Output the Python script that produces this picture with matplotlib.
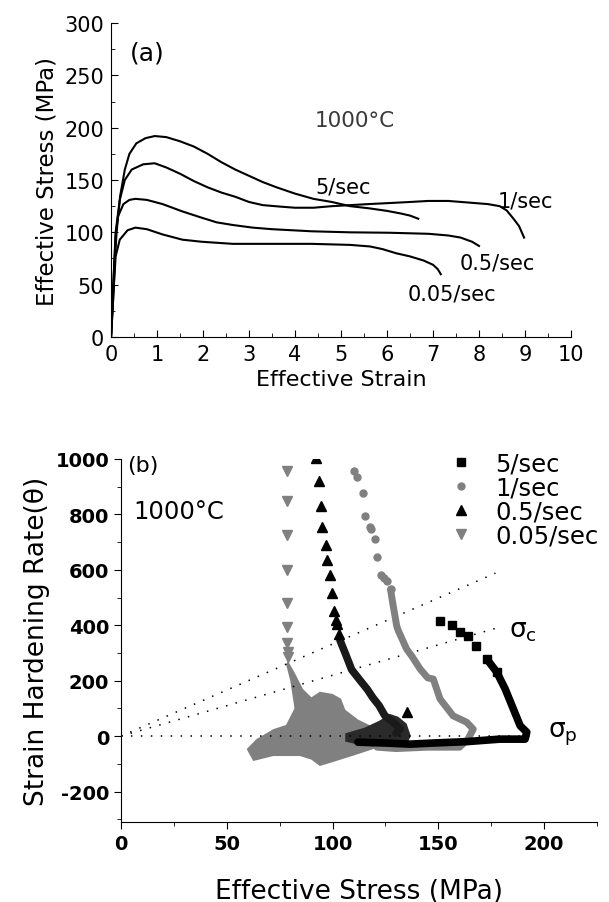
import matplotlib
matplotlib.use("Agg")
import matplotlib.pyplot as plt
from matplotlib.ticker import MultipleLocator

plt.rcParams['font.family'] = ['DejaVu Sans']
plt.rcParams['mathtext.fontset'] = 'dejavusans'
plt.rcParams['axes.unicode_minus'] = False

# ---------------- panel (a): stress-strain curves ----------------
strain_5 = [0, 0.04, 0.08, 0.12, 0.2, 0.3, 0.4, 0.55, 0.75, 0.95, 1.2, 1.5, 1.8, 2.1, 2.4, 2.7,
            3.0, 3.3, 3.6, 4.0, 4.4, 4.8, 5.2, 5.6, 6.0, 6.3, 6.5, 6.68]
stress_5 = [0, 30, 70, 100, 135, 160, 175, 185, 190, 192, 191, 187, 182, 175, 167, 160,
            154, 148, 143, 137, 132, 129, 125, 123, 120.5, 118, 116, 113]

strain_1 = [0, 0.04, 0.1, 0.19, 0.3, 0.45, 0.7, 0.95, 1.2, 1.5, 1.8, 2.1, 2.4, 2.7, 3.0, 3.3,
            3.7, 4.0, 4.4, 4.8, 5.2, 5.6, 6.06, 6.5, 6.9, 7.33, 7.76, 8.19, 8.45, 8.6, 8.75,
            8.87, 8.98]
stress_1 = [0, 40, 100, 131, 150, 160, 165, 166, 162, 156, 149, 143, 138, 134, 129, 126,
            124.5, 123.5, 123.5, 125, 126, 127, 128, 129, 130, 130, 128.5, 127, 125, 121, 113,
            106, 95]

strain_05 = [0, 0.05, 0.1, 0.15, 0.27, 0.4, 0.53, 0.78, 1.12, 1.55, 1.97, 2.3, 2.65, 3.08, 3.5,
             4.36, 5.2, 6.06, 6.9, 7.33, 7.6, 7.85, 8.0]
stress_05 = [0, 50, 96, 115, 127, 131, 132, 131, 127, 120, 114, 109.5, 107, 104.5, 103,
             101, 100, 99.6, 98.6, 97, 95, 91, 87]

strain_005 = [0, 0.05, 0.1, 0.19, 0.36, 0.53, 0.78, 1.12, 1.55, 1.97, 2.65, 3.5, 4.36, 5.2,
              5.63, 5.9, 6.2, 6.5, 6.8, 7.0, 7.1, 7.17]
stress_005 = [0, 40, 77, 93, 102, 104.5, 103, 98, 93, 91, 89, 89, 89, 88,
              86.5, 84, 80, 77, 73, 69, 65, 60]

curve_labels = ["5/sec", "1/sec", "0.5/sec", "0.05/sec"]
curve_label_pos = [(4.44, 144), (8.4, 130), (7.57, 71), (6.44, 42)]

# ---------------- panel (b): strain hardening rate vs stress ----------------
# 5/sec (squares)
s5_sparse_x = [150.8, 156.3, 160.3, 164, 168, 172.9, 177.6]
s5_sparse_y = [416, 400, 377, 361, 326, 278, 231]
s5_dense_x = [172.9, 177.6, 181.6, 185.5, 188.7, 191.8, 191, 179, 163.4, 147.6, 136.6, 125, 112]
s5_dense_y = [278, 231, 170, 97, 37, 14, -11, -11, -20, -25, -29, -25, -22]

# 1/sec (circles)
s1_sparse_x = [110, 111.5, 114.5, 115.5, 117.5, 118, 120, 121, 123, 124.5, 125.6, 127.4]
s1_sparse_y = [955, 935, 878, 795, 755, 748, 713, 648, 583, 570, 559, 530]
s1_dense_x = [127.4, 128.4, 130.3, 131, 135, 137.6, 141.4, 145, 147.6, 150.8, 157, 163.4, 166.5,
              164, 160, 145, 130, 121]
s1_dense_y = [530, 482, 398, 382, 314, 287, 242, 210, 206, 134, 73, 50, 25,
              -11, -40, -40, -45, -40]

# 0.5/sec (up triangles)
s05_sparse_x = [92, 93.4, 94.5, 95.2, 96.7, 97.6, 99, 99.8, 100.7, 101.5, 102, 103, 135]
s05_sparse_y = [1002, 920, 831, 754, 689, 636, 580, 518, 453, 420, 405, 370, 86]
s05_dense_x = [103.5, 106, 109, 112.7, 116.4, 119, 122, 124.7, 128.4, 132, 130]
s05_dense_y = [346, 299, 240, 204, 169, 139, 110, 74, 51, 27, 10]
s05_cloud_x = [106, 115, 122, 127, 131, 135, 137, 135, 125, 115, 106]
s05_cloud_y = [10, 30, 55, 80, 70, 45, 0, -30, -40, -35, -20]

# 0.05/sec (down triangles)
s005_sparse_x = [78.6, 78.6, 78.6, 78.6, 78.6, 78.6, 78.6, 79, 79]
s005_sparse_y = [955, 849, 725, 600, 482, 394, 335, 305, 287]
s005_cloud_x = [79, 82, 86, 90, 94, 100, 104, 106, 112, 120, 124, 122, 110, 100, 94, 90, 84.6,
                72, 62.5, 59.4, 64, 72, 78, 82, 80, 78]
s005_cloud_y = [270, 230, 170, 140, 160, 152, 135, 95, 60, 30, -10, -40, -70, -94, -108, -85, -72,
                -72, -90, -47, -11, 25, 40, 100, 200, 260]

# dotted construction lines (sigma_p, sigma_c and upper tangent)
guide_x = [[0, 197], [0, 179], [0, 177]]
guide_y = [[0, 0], [0, 393], [0, 588]]

legend_labels = ["5/sec", "1/sec", "0.5/sec", "0.05/sec"]

fig = plt.figure(figsize=(6.09, 9.03), dpi=100)

# ---- top panel ----
ax1 = fig.add_axes([0.1823, 0.6257, 0.7553, 0.3477])
for sx, sy in [(strain_5, stress_5), (strain_1, stress_1), (strain_05, stress_05), (strain_005, stress_005)]:
    ax1.plot(sx, sy, color='black', lw=1.5)
ax1.set_xlim(0, 10)
ax1.set_ylim(0, 300)
ax1.xaxis.set_major_locator(MultipleLocator(1))
ax1.xaxis.set_minor_locator(MultipleLocator(0.5))
ax1.yaxis.set_major_locator(MultipleLocator(50))
ax1.yaxis.set_minor_locator(MultipleLocator(25))
ax1.spines['top'].set_visible(False)
ax1.spines['right'].set_visible(False)
ax1.tick_params(which='both', direction='in', labelsize=15)
ax1.tick_params(axis='x', which='major', length=5, pad=5)
ax1.tick_params(axis='y', which='major', length=5, pad=5)
ax1.tick_params(which='minor', length=3)
ax1.set_xlabel("Effective Strain", fontsize=16, labelpad=4)
ax1.set_ylabel("Effective Stress (MPa)", fontsize=16.5, labelpad=4)
ax1.text(0.78, 272, "(a)", fontsize=18, va='center', ha='center')
ax1.text(5.29, 207, "1000°C", fontsize=15.5, va='center', ha='center', color='#3a3a3a')
for lab, (lx, ly) in zip(curve_labels, curve_label_pos):
    ax1.text(lx, ly, lab, fontsize=15, va='center')

# ---- bottom panel ----
ax2 = fig.add_axes([0.1987, 0.0886, 0.7816, 0.4020])
for gx, gy in zip(guide_x, guide_y):
    ax2.plot(gx, gy, color='black', lw=1.1, ls=(0, (1, 5.5)))

gray = '#808080'
ax2.fill(s005_cloud_x, s005_cloud_y, color=gray, lw=0)
ax2.plot(s005_sparse_x, s005_sparse_y, ls='none', marker='v', ms=7, color=gray)
ax2.plot(s1_dense_x, s1_dense_y, color=gray, lw=5, solid_joinstyle='round', solid_capstyle='round')
ax2.plot(s1_sparse_x, s1_sparse_y, ls='none', marker='o', ms=5, color=gray)
ax2.fill(s05_cloud_x, s05_cloud_y, color='#2a2a2a', lw=0)
ax2.plot(s05_dense_x, s05_dense_y, color='#1a1a1a', lw=5.5, solid_joinstyle='round', solid_capstyle='round')
ax2.plot(s05_sparse_x, s05_sparse_y, ls='none', marker='^', ms=7, color='black')
ax2.plot(s5_dense_x, s5_dense_y, color='black', lw=5.5, solid_joinstyle='round', solid_capstyle='round')
ax2.plot(s5_sparse_x, s5_sparse_y, ls='none', marker='s', ms=5.5, color='black')

h5, = ax2.plot([], [], ls='none', marker='s', ms=5.5, color='black')
h1, = ax2.plot([], [], ls='none', marker='o', ms=5, color=gray)
h05, = ax2.plot([], [], ls='none', marker='^', ms=7, color='black')
h005, = ax2.plot([], [], ls='none', marker='v', ms=7, color=gray)
ax2.legend([h5, h1, h05, h005], legend_labels, loc='upper left', frameon=False,
           fontsize=17.5, handletextpad=0.9, labelspacing=0.0, borderaxespad=0.0,
           borderpad=0.0, bbox_to_anchor=(0.689, 1.02), handlelength=1.0)

ax2.set_xlim(0, 225)
ax2.set_ylim(-310, 1000)
ax2.xaxis.set_major_locator(MultipleLocator(50))
ax2.xaxis.set_minor_locator(MultipleLocator(25))
ax2.yaxis.set_major_locator(MultipleLocator(200))
ax2.yaxis.set_minor_locator(MultipleLocator(100))
ax2.spines['top'].set_visible(False)
ax2.spines['right'].set_visible(False)
ax2.tick_params(which='both', direction='out', labelsize=14)
ax2.tick_params(which='major', length=5)
ax2.tick_params(which='minor', length=3)
for lbl in ax2.get_xticklabels() + ax2.get_yticklabels():
    lbl.set_fontweight('bold')
ax2.set_xlabel("Effective Stress (MPa)", fontsize=19, labelpad=18)
ax2.set_ylabel("Strain Hardening Rate(θ)", fontsize=19, labelpad=4)
ax2.text(10.5, 979, "(b)", fontsize=16, va='center', ha='center')
ax2.text(5.9, 813, "1000°C", fontsize=17.5, va='center')
ax2.text(183.6, 382, r"σ$_\mathrm{c}$", fontsize=19, va='center')
ax2.text(202, 9, r"σ$_\mathrm{p}$", fontsize=19, va='center')

fig.savefig("out.png", dpi=100)
